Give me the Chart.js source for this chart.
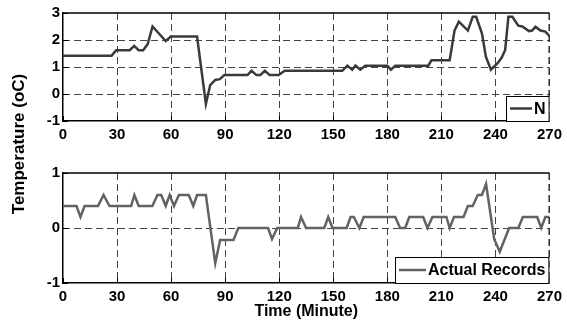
<!DOCTYPE html>
<html>
<head>
<meta charset="utf-8">
<script src="https://cdn.jsdelivr.net/npm/chart.js@4/dist/chart.umd.min.js"></script>
<style>
  html, body { margin: 0; padding: 0; background: #fff; }
  #wrap { position: relative; width: 567px; height: 322px; }
  canvas { position: absolute; left: 0; top: 0; }
</style>
</head>
<body>
<div id="wrap">
  <canvas id="c1" width="567" height="322"></canvas>
  <canvas id="c2" width="567" height="322"></canvas>
</div>
<script>
// ---- Data ----
const xTicks = [0, 30, 60, 90, 120, 150, 180, 210, 240, 270];
const topYTicks = [-1, 0, 1, 2, 3];
const bottomYTicks = [-1, 0, 1];

const nLabel = 'N';
const nTime = [0, 27, 29.5, 37, 39.5, 42, 44.5, 47, 49.7, 57, 59.8, 74.4, 79.3, 81.7, 84.5, 87, 89.6,
  102.4, 104.6, 107.4, 109.5, 112, 114.7, 119.7, 123, 155, 157.8, 160.5, 162.3, 165, 167.8, 180, 182,
  184.4, 202.7, 204.5, 214.6, 217.3, 219.7, 224.7, 227.4, 229.3, 232.5, 234.7, 237.5, 241.2, 243.5,
  245.4, 247.2, 249.4, 252.7, 254.9, 258.6, 260.4, 262.2, 265, 267.7, 270];
const nTemp = [1.42, 1.42, 1.62, 1.62, 1.78, 1.62, 1.62, 1.85, 2.5, 1.96, 2.13, 2.13, -0.37, 0.33, 0.52, 0.55, 0.7,
  0.7, 0.86, 0.7, 0.7, 0.86, 0.7, 0.7, 0.86, 0.86, 1.05, 0.9, 1.05, 0.9, 1.05, 1.05, 0.9,
  1.05, 1.05, 1.25, 1.25, 2.35, 2.68, 2.35, 2.86, 2.86, 2.25, 1.38, 0.9, 1.14, 1.35,
  1.63, 2.86, 2.86, 2.53, 2.5, 2.33, 2.35, 2.49, 2.35, 2.31, 2.15];

const recLabel = 'Actual Records';
const recTime = [0, 7.5, 9.7, 12, 19.4, 22.5, 25.8, 37.8, 39.6, 42, 49.6, 52.4, 54.5, 57, 59.2, 61.6, 64.3,
  69.8, 72.3, 74.4, 79.3, 84.5, 87.2, 94.6, 97.3, 113.8, 116, 118.9, 130.3, 132.1, 134.9, 145, 147.2,
  149.6, 157.4, 159.6, 161.4, 164.5, 166.9, 184.4, 187.1, 189.9, 192.2, 199.9, 202.3, 205, 212.8,
  214.6, 217, 222.3, 224.7, 227.4, 230.2, 232.5, 234.8, 239.3, 242.4, 247.6, 252.7, 255.2, 263.2,
  265.4, 267.7, 270];
const recTemp = [0.4, 0.4, 0.2, 0.4, 0.4, 0.6, 0.4, 0.4, 0.6, 0.4, 0.4, 0.6, 0.6, 0.4, 0.6, 0.4, 0.6,
  0.6, 0.4, 0.6, 0.6, -0.64, -0.22, -0.22, 0, 0, -0.2, 0, 0, 0.2, 0, 0, 0.2,
  0, 0, 0.2, 0.2, 0, 0.2, 0.2, 0, 0, 0.2, 0.2, 0, 0.2, 0.2,
  0, 0.2, 0.2, 0.4, 0.4, 0.6, 0.6, 0.8, -0.2, -0.43, 0, 0, 0.2, 0.2,
  0, 0.2, 0.2];

const yTitle = 'Temperature (oC)';
const xTitle = 'Time (Minute)';

// ---- Styling ----
const FONT = 'Liberation Sans, Arial, Helvetica, sans-serif';
Chart.defaults.font.family = FONT;
Chart.defaults.color = '#000';

function pts(xs, ys) { return xs.map((x, i) => ({ x: x, y: ys[i] })); }

// dashed grid + inner tick marks, positioned through the chart's scales
const dashedGrid = {
  id: 'dashedGrid',
  beforeDatasetsDraw(chart) {
    const ctx = chart.ctx, a = chart.chartArea;
    const xs = chart.scales.x, ys = chart.scales.y;
    ctx.save();
    ctx.strokeStyle = '#444';
    ctx.lineWidth = 1;
    ctx.setLineDash([7, 4]);
    xs.ticks.forEach(t => {
      const px = Math.round(xs.getPixelForValue(t.value)) + 0.5;
      if (px <= a.left + 1) return;
      ctx.beginPath(); ctx.moveTo(px, a.top); ctx.lineTo(px, a.bottom); ctx.stroke();
    });
    ys.ticks.forEach(t => {
      const py = Math.round(ys.getPixelForValue(t.value)) + 0.5;
      if (py >= a.bottom - 1 || py <= a.top + 1) return;
      ctx.beginPath(); ctx.moveTo(a.left, py); ctx.lineTo(a.right, py); ctx.stroke();
    });
    ctx.setLineDash([]);
    ctx.strokeStyle = '#000';
    xs.ticks.forEach(t => {
      const px = Math.round(xs.getPixelForValue(t.value)) + 0.5;
      ctx.beginPath(); ctx.moveTo(px, a.bottom); ctx.lineTo(px, a.bottom - 5); ctx.stroke();
    });
    ys.ticks.forEach(t => {
      const py = Math.round(ys.getPixelForValue(t.value)) + 0.5;
      ctx.beginPath(); ctx.moveTo(a.left, py); ctx.lineTo(a.left + 5, py); ctx.stroke();
    });
    ctx.restore();
  }
};

function boxLegendPlugin(opts) {
  return {
    id: 'boxLegend',
    afterDatasetsDraw(chart) {
      const ctx = chart.ctx, a = chart.chartArea;
      const ds = chart.data.datasets[0];
      ctx.save();
      ctx.font = 'bold 16px ' + FONT;
      const tw = ctx.measureText(ds.label).width;
      const w = 4 + opts.lineLen + 2 + tw + 4;
      const h = opts.height;
      const x0 = Math.round(a.right - w), y0 = Math.round(a.bottom - h);
      ctx.fillStyle = '#fff';
      ctx.fillRect(x0, y0, w, h);
      ctx.strokeStyle = '#000';
      ctx.lineWidth = 1;
      ctx.strokeRect(x0 + 0.5, y0 + 0.5, w - 1, h);
      ctx.strokeStyle = ds.borderColor;
      ctx.lineWidth = ds.borderWidth;
      ctx.beginPath();
      ctx.moveTo(x0 + 4, y0 + h / 2);
      ctx.lineTo(x0 + 4 + opts.lineLen, y0 + h / 2);
      ctx.stroke();
      ctx.fillStyle = '#000';
      ctx.textBaseline = 'middle';
      ctx.textAlign = 'left';
      ctx.fillText(ds.label, x0 + 4 + opts.lineLen + 2, y0 + h / 2 + 1);
      ctx.restore();
    }
  };
}

const frameTop = {
  id: 'frameTop',
  afterDatasetsDraw(chart) {
    const ctx = chart.ctx, a = chart.chartArea;
    ctx.save();
    ctx.strokeStyle = '#000';
    ctx.lineWidth = 1.5;
    ctx.beginPath();
    ctx.moveTo(a.left, a.top);
    ctx.lineTo(a.right, a.top);
    ctx.stroke();
    ctx.strokeStyle = '#222';
    ctx.lineWidth = 1;
    ctx.setLineDash([7, 4]);
    ctx.beginPath();
    ctx.moveTo(a.right - 0.5, a.top);
    ctx.lineTo(a.right - 0.5, a.bottom);
    ctx.stroke();
    ctx.restore();
  }
};

const yTitlePlugin = {
  id: 'yTitle',
  afterDraw(chart) {
    const ctx = chart.ctx;
    ctx.save();
    ctx.translate(19, 144);
    ctx.rotate(-Math.PI / 2);
    ctx.font = 'bold 17px ' + FONT;
    ctx.fillStyle = '#000';
    ctx.textAlign = 'center';
    ctx.textBaseline = 'middle';
    ctx.fillText(yTitle, 0, 0);
    ctx.restore();
  }
};

function makeChart(id, cfg) {
  return new Chart(document.getElementById(id), {
    type: 'line',
    data: {
      datasets: [{
        label: cfg.label,
        data: pts(cfg.xs, cfg.ys),
        borderColor: cfg.color,
        borderWidth: 2.5,
        pointRadius: 0,
        tension: 0,
        fill: false
      }]
    },
    options: {
      responsive: false,
      animation: false,
      devicePixelRatio: 1,
      layout: { padding: cfg.padding },
      plugins: { legend: { display: false }, tooltip: { enabled: false } },
      scales: {
        x: {
          type: 'linear',
          min: 0, max: 270,
          afterBuildTicks: (s) => { s.ticks = xTicks.map(v => ({ value: v })); },
          afterFit: (s) => { s.height = cfg.xHeight; },
          grid: { drawOnChartArea: false, drawTicks: false },
          border: { display: true, color: '#000', width: 1.5 },
          ticks: { font: { size: 15, weight: 'bold' }, color: '#000', padding: 5, maxRotation: 0 },
          title: cfg.xTitle ? { display: true, text: cfg.xTitle, font: { size: 16, weight: 'bold' }, color: '#000', padding: { top: 0, bottom: 1 } } : { display: false }
        },
        y: {
          type: 'linear',
          min: cfg.yTicks[0], max: cfg.yTicks[cfg.yTicks.length - 1],
          afterBuildTicks: (s) => { s.ticks = cfg.yTicks.map(v => ({ value: v })); },
          afterFit: (s) => { s.width = 63; },
          grid: { drawOnChartArea: false, drawTicks: false },
          border: { display: true, color: '#000', width: 1.5 },
          ticks: { font: { size: 15, weight: 'bold' }, color: '#000', padding: 3 }
        }
      }
    },
    plugins: [dashedGrid].concat(cfg.plugins)
  });
}

makeChart('c1', {
  label: nLabel, xs: nTime, ys: nTemp, color: '#3a3a3a',
  yTicks: topYTicks, xHeight: 20,
  padding: { left: 0, top: 13, right: 13, bottom: 181 },
  plugins: [frameTop, boxLegendPlugin({ lineLen: 22, height: 25 })]
});

makeChart('c2', {
  label: recLabel, xs: recTime, ys: recTemp, color: '#636363',
  yTicks: bottomYTicks, xHeight: 39, xTitle: xTitle,
  padding: { left: 0, top: 173, right: 13, bottom: 0 },
  plugins: [frameTop, boxLegendPlugin({ lineLen: 27, height: 26 }), yTitlePlugin]
});
</script>
</body>
</html>
